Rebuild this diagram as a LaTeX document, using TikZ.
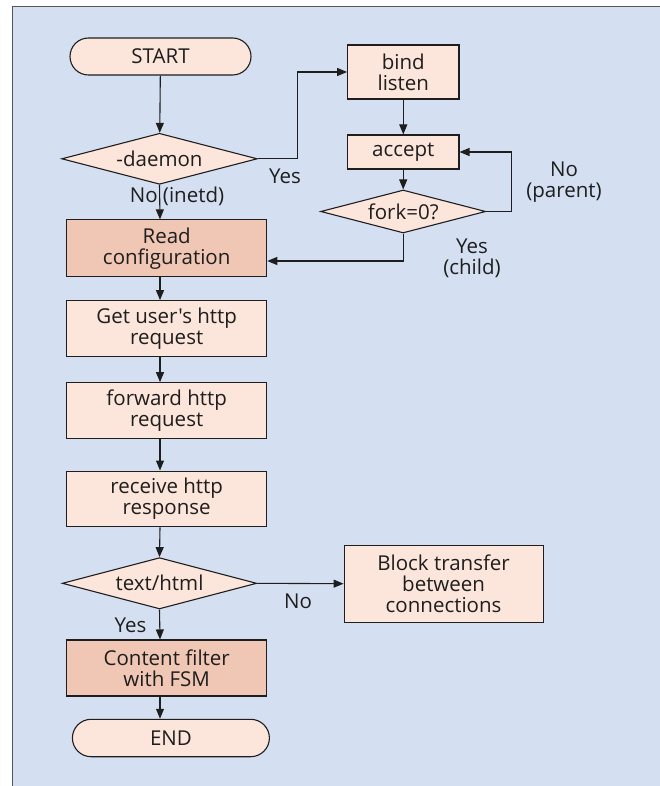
\documentclass[tikz,border=0pt]{standalone}
\usepackage{fontspec}
\setmainfont{Open Sans}[Ligatures=TeXOff]
\usetikzlibrary{shapes.geometric,shapes.misc,arrows.meta}
\definecolor{panelblue}{HTML}{D4E0F1}
\definecolor{boxpale}{HTML}{FCE5DA}
\definecolor{boxkey}{HTML}{F0C7B5}
\definecolor{inkline}{HTML}{1E1E1E}
\definecolor{frameline}{HTML}{555555}
\begin{document}
\begin{tikzpicture}[x=1pt,y=-1pt,
  every node/.style={font=\fontsize{20.5}{21}\selectfont, text=inkline},
  stepbox/.style={rectangle, draw=inkline, line width=1.1pt, fill=boxpale,
    align=center, inner sep=0pt, minimum width=200pt, minimum height=56pt},
  keybox/.style={stepbox, fill=boxkey},
  termbox/.style={rounded rectangle, draw=inkline, line width=1.1pt, fill=boxpale,
    inner sep=0pt, minimum height=37pt},
  choice/.style={diamond, draw=inkline, line width=1.1pt, fill=boxpale,
    inner sep=0pt, aspect=5},
  tag/.style={align=center, inner sep=0pt},
  flow/.style={draw=inkline, line width=1.1pt, -{Triangle[length=10pt,width=8pt]}}]

\useasboundingbox (0,0) rectangle (660,786);

% background panel with its top and left rules
\fill[panelblue] (12.3,6.7) rectangle (660,786);
\draw[frameline, line width=1.4pt] (660,6.7) -- (12.3,6.7) -- (12.3,786);

% vertical spine of the main column
\coordinate (spine) at (160,0);

% main column
\node[termbox, minimum width=181pt] (start) at (160.5,56.5) {START};
\node[choice, minimum width=195.6pt, minimum height=51pt] (daemon) at (159.5,158.8) {-daemon};
\node[keybox, minimum height=56.7pt] (read) at (166.7,248.3) {Read\\configuration};
\node[stepbox] (get) at (166.7,328.7) {Get user's http\\request};
\node[stepbox] (fwd) at (166.7,410.7) {forward http\\request};
\node[stepbox, minimum height=55.7pt] (recv) at (166.7,498.9) {receive http\\response};
\node[choice, minimum width=194.4pt, minimum height=51.3pt] (html) at (159.5,583.3) {text/html};
\node[keybox] (content) at (166.7,668) {Content filter\\with FSM};
\node[termbox, minimum width=197pt, minimum height=37.4pt] (end) at (170.9,738) {END};

% daemon branch
\node[stepbox, minimum width=111.3pt, minimum height=54pt] (bind) at (403.3,72) {bind\\listen};
\node[stepbox, minimum width=111.3pt, minimum height=34pt] (accept) at (403.3,152) {accept};
\node[choice, minimum width=165pt, minimum height=43pt] (fork) at (403.2,211.5) {fork=0?};

% side box
\node[stepbox, minimum width=199pt, minimum height=77pt] (block) at (443.6,583.7) {Block transfer\\between\\connections};

% connectors
\draw[flow] (start) -- (daemon);
\coordinate (jog) at (297.7,72);
\draw[flow] (daemon.east) -| (jog) -- (bind.west);
\draw[flow] (daemon.south) -- (read.north -| spine);
\draw[flow] (bind) -- (accept);
\draw[flow] (accept.south -| fork.north) -- (fork.north);
\draw[flow] (fork.east) -- ++(25.5,0) |- (accept.east);
\draw[flow] (fork.south) |- ([yshift=-12.7pt]read.east);
\draw[flow] (read.south -| spine) -- (get.north -| spine);
\draw[flow] (get.south -| spine) -- (fwd.north -| spine);
\draw[flow] (fwd.south -| spine) -- (recv.north -| spine);
\draw[flow] (recv.south -| spine) -- (html.north);
\draw[flow] (html.east) -- (block.west);
\draw[flow] (html.south) -- (content.north -| spine);
\draw[flow] (content.south -| spine) -- (end.north -| spine);

% branch labels
\node[tag] (yesd) at (285,176.7) {Yes};
\node[tag] (nod) at (177,196.5) {No (inetd)};
\node[tag] (nop) at (564,182.5) {No\\(parent)};
\node[tag] (yesc) at (472,258.5) {Yes\\(child)};
\node[tag] (noh) at (298,601) {No};
\node[tag] (yesh) at (130.5,625) {Yes};
\end{tikzpicture}
\end{document}
